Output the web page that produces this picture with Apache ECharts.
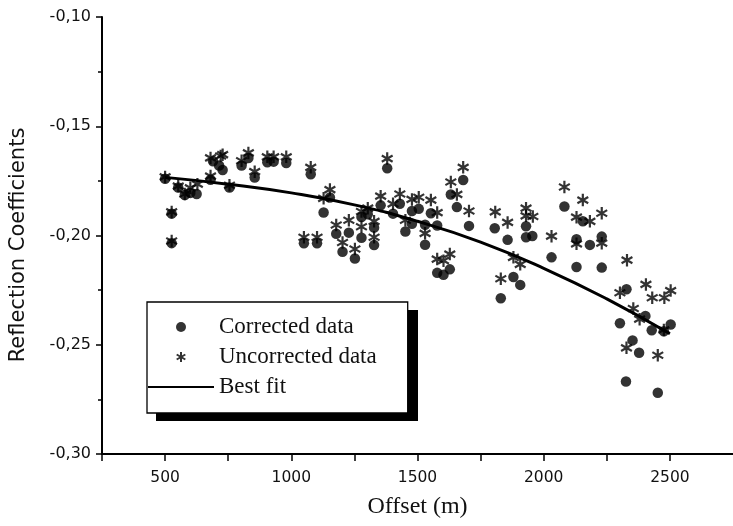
<!DOCTYPE html>
<html>
<head>
<meta charset="utf-8">
<script src="https://cdn.jsdelivr.net/npm/echarts@6/dist/echarts.min.js"></script>
<style>
html,body{margin:0;padding:0;background:#fff;}
#chart{width:733px;height:526px;}
</style>
</head>
<body>
<div id="chart"></div>
<script>
// Corrected data (circles)
var correctedOffset = [500,526,526,552,578,600,625,680,690,714,728,755,803,830,855,905,930,980,1050,1077,1102,1128,1153,1178,1203,1228,1252,1278,1278,1303,1328,1328,1354,1380,1403,1430,1452,1478,1478,1505,1530,1530,1553,1578,1578,1603,1628,1632,1656,1681,1704,1806,1830,1857,1880,1907,1930,1930,1955,2031,2082,2130,2130,2155,2183,2230,2230,2302,2328,2326,2352,2378,2403,2428,2452,2476,2503];
var correctedRC = [-0.174,-0.190,-0.2035,-0.178,-0.1815,-0.1805,-0.181,-0.1745,-0.166,-0.168,-0.170,-0.178,-0.168,-0.1645,-0.1735,-0.1665,-0.1662,-0.1668,-0.2036,-0.172,-0.2036,-0.1895,-0.1826,-0.1992,-0.2074,-0.1987,-0.2105,-0.201,-0.1915,-0.1903,-0.2044,-0.1964,-0.1862,-0.1692,-0.190,-0.1855,-0.1982,-0.1888,-0.1946,-0.1878,-0.1951,-0.2042,-0.1898,-0.1954,-0.2171,-0.218,-0.2155,-0.1812,-0.187,-0.1746,-0.1956,-0.1967,-0.2287,-0.202,-0.219,-0.2226,-0.1958,-0.2008,-0.2002,-0.21,-0.1867,-0.2017,-0.2144,-0.1935,-0.2043,-0.2005,-0.2147,-0.2402,-0.2246,-0.2668,-0.248,-0.2537,-0.2368,-0.2434,-0.272,-0.2438,-0.2407];

// Uncorrected data (asterisks)
var uncorrectedOffset = [500,526,526,552,578,600,628,680,680,720,728,755,803,830,855,905,930,980,1050,1077,1102,1128,1153,1178,1203,1228,1252,1278,1278,1303,1328,1328,1354,1380,1403,1430,1452,1478,1505,1530,1553,1578,1578,1603,1628,1632,1656,1681,1704,1808,1830,1857,1880,1907,1930,1930,1957,2031,2082,2130,2130,2155,2183,2230,2230,2302,2330,2328,2355,2380,2405,2430,2452,2478,2476,2503];
var uncorrectedRC = [-0.1732,-0.1892,-0.2025,-0.1774,-0.181,-0.1782,-0.1765,-0.1728,-0.1645,-0.1636,-0.163,-0.177,-0.1658,-0.1622,-0.1708,-0.164,-0.164,-0.164,-0.2008,-0.1688,-0.2008,-0.183,-0.179,-0.1952,-0.2032,-0.193,-0.2062,-0.196,-0.189,-0.1875,-0.2008,-0.1935,-0.182,-0.1648,-0.1855,-0.181,-0.193,-0.1835,-0.1825,-0.199,-0.1838,-0.1895,-0.2108,-0.2115,-0.2085,-0.1755,-0.1812,-0.1688,-0.1888,-0.1892,-0.2198,-0.194,-0.21,-0.2132,-0.1875,-0.191,-0.1913,-0.2003,-0.1778,-0.1916,-0.2038,-0.1838,-0.1935,-0.1898,-0.2035,-0.2262,-0.2113,-0.2514,-0.2334,-0.2383,-0.2224,-0.2285,-0.2548,-0.2285,-0.2432,-0.2252];

// Best fit curve
var fitOffset = [500,750,1000,1250,1500,1750,2000,2250,2500];
var fitRC = [-0.1734,-0.1765,-0.1805,-0.1860,-0.1935,-0.2030,-0.2150,-0.2290,-0.2450];

var seriesNames = ['Corrected data','Uncorrected data','Best fit'];

function pairs(xs, ys){ return xs.map(function(x,i){ return [x, ys[i]]; }); }

var asterisk = 'path://M0,-1L0,1M-0.866,-0.5L0.866,0.5M-0.866,0.5L0.866,-0.5';

var chart = echarts.init(document.getElementById('chart'), null, {renderer:'canvas'});
chart.setOption({
  backgroundColor:'#fff',
  animation:false,
  grid:{left:102, top:17, right:-4, bottom:72, containLabel:false},
  graphic:[{
    type:'rect', z:3, silent:true,
    shape:{x:156, y:310, width:262, height:111},
    style:{fill:'#000'}
  }],
  xAxis:{
    type:'value', min:250, max:2750, interval:250,
    name:'Offset (m)', nameLocation:'middle', nameGap:41,
    nameTextStyle:{fontFamily:'Liberation Serif', fontSize:24, color:'#111'},
    axisLine:{show:true, onZero:false, lineStyle:{color:'#000', width:2}},
    axisTick:{show:true, inside:false, length:7, lineStyle:{color:'#000', width:1.5}},
    axisLabel:{margin:16, fontFamily:'DejaVu Sans', fontSize:15.5, color:'#111',
      showMinLabel:true, showMaxLabel:false,
      formatter:function(v){ return (v % 500 === 0) ? String(v) : ''; }},
    splitLine:{show:false}
  },
  yAxis:{
    type:'value', min:-0.30, max:-0.10, interval:0.05,
    name:'Reflection Coefficients', nameLocation:'middle', nameGap:73,
    nameTextStyle:{fontFamily:'DejaVu Sans', fontSize:21, color:'#111', padding:[0,19,0,0]},
    axisLine:{show:true, onZero:false, lineStyle:{color:'#000', width:2}},
    axisTick:{show:true, inside:false, length:6, lineStyle:{color:'#000', width:1.5}},
    minorTick:{show:true, splitNumber:2, length:4, lineStyle:{color:'#000', width:1.5}},
    axisLabel:{margin:11, fontFamily:'DejaVu Sans', fontSize:16, color:'#111',
      formatter:function(v){ return v.toFixed(2).replace('.', ','); }},
    splitLine:{show:false}
  },
  legend:{
    orient:'vertical', left:147, top:302, z:4,
    data:seriesNames,
    padding:[13,31,14,0],
    itemWidth:66, itemHeight:10, itemGap:6,
    backgroundColor:'#fff', borderColor:'#000', borderWidth:1.3,
    lineStyle:{width:2},
    textStyle:{fontFamily:'Liberation Serif', fontSize:23, lineHeight:24, color:'#111'}
  },
  series:[
    {
      name:seriesNames[0], type:'scatter', symbol:'circle', symbolSize:10.5,
      itemStyle:{color:'#000'},
      data:pairs(correctedOffset, correctedRC), z:3
    },
    {
      name:seriesNames[1], type:'scatter', symbol:asterisk, symbolSize:12.5, symbolKeepAspect:true,
      itemStyle:{color:'#000', borderColor:'#000', borderWidth:2.2},
      data:pairs(uncorrectedOffset, uncorrectedRC), z:2
    },
    {
      name:seriesNames[2], type:'line', smooth:true, symbol:'none', showSymbol:false,
      lineStyle:{color:'#000', width:3},
      itemStyle:{color:'rgba(0,0,0,0)'},
      data:pairs(fitOffset, fitRC), z:4
    }
  ]
});
</script>
</body>
</html>
